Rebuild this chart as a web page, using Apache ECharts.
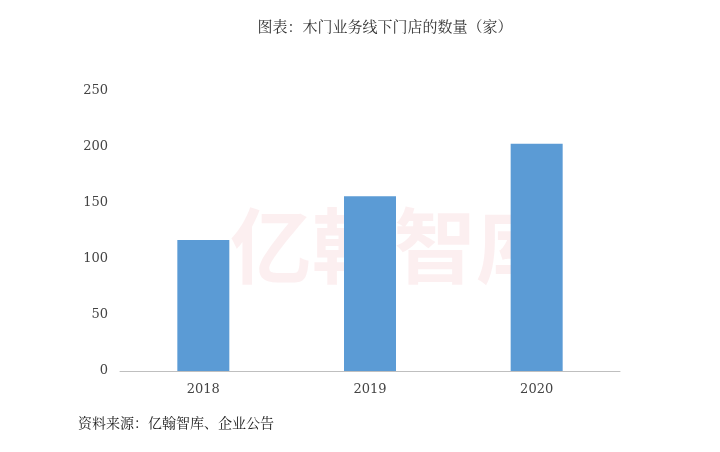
<!DOCTYPE html>
<html>
<head>
<meta charset="utf-8">
<script src="https://cdn.jsdelivr.net/npm/echarts@6/dist/echarts.min.js"></script>
<style>html,body{margin:0;padding:0;background:#fff}#chart{width:720px;height:452px}</style>
</head>
<body>
<div id="chart"></div>
<script>
var years = ['2018', '2019', '2020'];
var stores = [117, 156, 203];
var yTicks = [0, 50, 100, 150, 200, 250];

var serif = '"Noto Serif CJK SC","Noto Sans CJK SC","DejaVu Serif",serif';
var chart = echarts.init(document.getElementById('chart'));
chart.setOption({
    animation: false,
    title: {
        text: '图表：木门业务线下门店的数量（家）',
        left: 380, top: 14, textAlign: 'center',
        textStyle: { fontSize: 15, fontWeight: 'normal', color: '#333', fontFamily: serif }
    },
    graphic: [
        { type: 'text', left: 230, top: 205, z: -1, style: { text: '亿翰智库', fontSize: 82, fontWeight: 'bold', fill: 'rgba(230,120,130,0.12)', fontFamily: '"Noto Sans CJK SC"' } },
        { type: 'text', left: 78, top: 416, style: { text: '资料来源：亿翰智库、企业公告', fontSize: 14, fill: '#222', fontFamily: serif } }
    ],
    grid: { left: 120, right: 100, top: 91, bottom: 81 },
    xAxis: {
        type: 'category', data: years,
        axisTick: { show: false },
        axisLine: { lineStyle: { color: '#bfbfbf' } },
        axisLabel: { color: '#444', fontSize: 13, margin: 12, fontFamily: '"DejaVu Serif",serif' }
    },
    yAxis: {
        type: 'value', min: yTicks[0], max: yTicks[yTicks.length - 1], interval: 50,
        splitLine: { show: false },
        axisLine: { show: false }, axisTick: { show: false },
        axisLabel: { color: '#444', fontSize: 13, margin: 12, fontFamily: '"DejaVu Serif",serif' }
    },
    series: [{
        type: 'bar', data: stores, barWidth: 52,
        itemStyle: { color: '#5b9bd5' }
    }]
});
</script>
</body>
</html>
